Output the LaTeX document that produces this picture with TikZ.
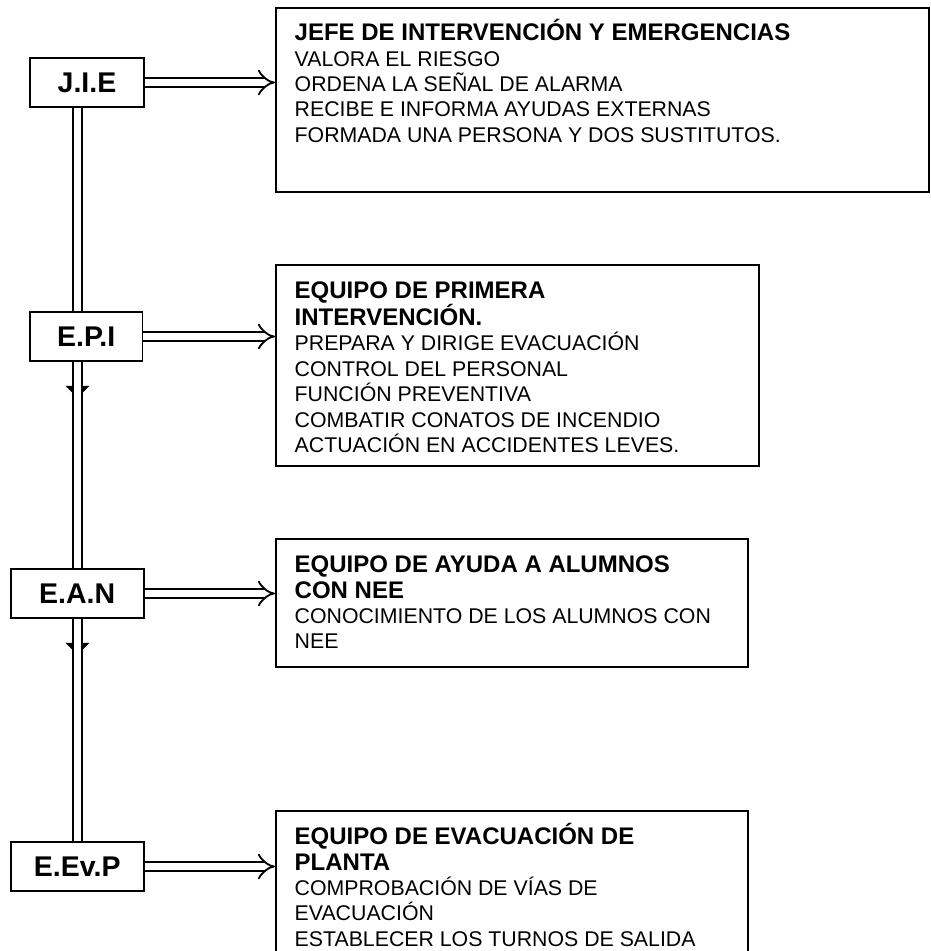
\documentclass[tikz,border=0pt]{standalone}
\usepackage{fontspec}
\setmainfont{Liberation Sans}
\usetikzlibrary{arrows.meta}

\tikzset{
  team/.style={draw, line width=1.8pt, fill=white, minimum height=49pt, inner sep=0pt,
    font=\fontsize{28.5}{30}\selectfont\bfseries},
  panel/.style={draw, line width=1.8pt, anchor=north west, inner sep=0pt},
  notes/.style={anchor=base west, inner sep=0pt, font=\fontsize{21.3}{25.4}\selectfont},
  link/.style={double, line width=1.8pt, double distance=7.2pt},
}

\newcommand\head[1]{{\fontsize{24}{25.4}\selectfont\bfseries #1}}

\begin{document}
\begin{tikzpicture}[x=1pt, y=-1pt]

\def\width{931}
\def\height{951}

\path [use as bounding box] (0,0) rectangle (\width,\height);
\clip (0,0) rectangle (\width,\height);

% TEAMS
\coordinate (spine) at (77.5,0);
\node [team, minimum width=114pt] (jie) at (87,82.5) {J.I.E};
\node [team, minimum width=112.5pt] (epi) at (86.25,336.5) {E.P.I};
\node [team, minimum width=133pt] (ean) at (77.2,593.5) {E.A.N};
\node [team, minimum width=133pt] (eevp) at (77.2,866.5) {E.Ev.P};

% PANELS
\node [panel, minimum width=653pt, minimum height=184pt] (jiebox) at (275,7) {};
\node [panel, minimum width=483pt, minimum height=201pt] (epibox) at (275,264) {};
\node [panel, minimum width=472pt, minimum height=128pt] (eanbox) at (275,538) {};
\node [panel, minimum width=472pt, minimum height=200pt] (eevpbox) at (275,810) {};

% TEXTS
\node [notes] (jietxt) at (294.5,40.6) {\parbox[t]{600pt}{\raggedright
  \head{JEFE DE INTERVENCIÓN Y EMERGENCIAS}\\
  VALORA EL RIESGO\\
  ORDENA LA SEÑAL DE ALARMA\\
  RECIBE E INFORMA AYUDAS EXTERNAS\\
  FORMADA UNA PERSONA Y DOS SUSTITUTOS.}};
\node [notes] (epitxt) at (294.5,298.6) {\parbox[t]{450pt}{\raggedright
  \head{EQUIPO DE PRIMERA}\\
  \head{INTERVENCIÓN.}\\
  PREPARA Y DIRIGE EVACUACIÓN\\
  CONTROL DEL PERSONAL\\
  FUNCIÓN PREVENTIVA\\
  COMBATIR CONATOS DE INCENDIO\\
  ACTUACIÓN EN ACCIDENTES LEVES.}};
\node [notes] (eantxt) at (294.5,572.6) {\parbox[t]{440pt}{\raggedright
  \head{EQUIPO DE AYUDA A ALUMNOS}\\
  \head{CON NEE}\\
  CONOCIMIENTO DE LOS ALUMNOS CON\\
  NEE}};
\node [notes] (eevptxt) at (294.5,844.6) {\parbox[t]{440pt}{\raggedright
  \head{EQUIPO DE EVACUACIÓN DE}\\
  \head{PLANTA}\\
  COMPROBACIÓN DE VÍAS DE\\
  EVACUACIÓN\\
  ESTABLECER LOS TURNOS DE SALIDA}};

% LINKS
\draw [link] (jie.south -| spine) -- (epi.north -| spine);
\draw [link] (epi.south -| spine) -- (ean.north -| spine);
\draw [link] (ean.south -| spine) -- (eevp.north -| spine);
\foreach \n/\b in {jie/jiebox, epi/epibox, ean/eanbox, eevp/eevpbox}
  \draw [link, -{Implies[scale=1.1]}] (\n.east) -- (\n.east -| \b.west);

% MARKS
\foreach \n in {epi, ean} {
  \path (\n.south -| spine) ++(0,24) coordinate (m);
  \fill (m) +(-12,0) -- +(-5,0) -- +(-5,7) -- cycle;
  \fill (m) +(12,0) -- +(5,0) -- +(5,7) -- cycle;
}

\end{tikzpicture}
\end{document}
